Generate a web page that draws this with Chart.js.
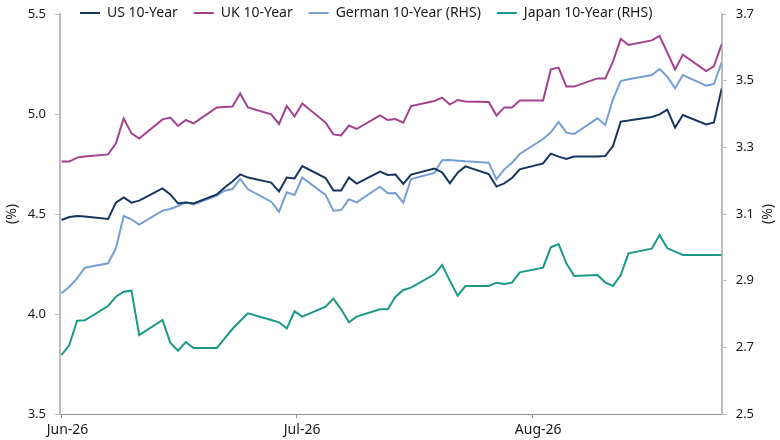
<!DOCTYPE html>
<html>
<head>
<meta charset="utf-8">
<script src="https://cdn.jsdelivr.net/npm/chart.js@4.4.1/dist/chart.umd.min.js"></script>
<style>
html,body{margin:0;padding:0;background:#ffffff;}
#wrap{width:780px;height:440px;}
canvas{display:block;}
</style>
</head>
<body>
<div id="wrap"><canvas id="c" width="780" height="440" style="width:780px;height:440px"></canvas></div>
<script>
// Trading days, counted in calendar days from the first observation
const days = [0,1,2,3,6,7,8,9,10,13,14,15,16,17,20,21,22,23,24,27,28,29,30,31,34,35,36,37,38,41,42,43,44,45,48,49,50,51,52,55,56,57,58,59,62,63,64,65,66,69,70,71,72,73,76,77,78,79,80,83,84,85];

const us10 = [4.470,4.485,4.490,4.488,4.475,4.557,4.583,4.557,4.567,4.628,4.598,4.553,4.558,4.553,4.598,4.633,4.662,4.698,4.682,4.657,4.612,4.682,4.678,4.740,4.680,4.617,4.617,4.682,4.652,4.712,4.695,4.697,4.650,4.697,4.727,4.708,4.653,4.707,4.738,4.700,4.637,4.653,4.680,4.723,4.753,4.802,4.787,4.775,4.787,4.787,4.790,4.840,4.962,4.967,4.985,4.998,5.022,4.932,4.995,4.948,4.958,5.128];

const uk10 = [4.762,4.762,4.782,4.788,4.798,4.853,4.978,4.903,4.877,4.973,4.982,4.940,4.970,4.953,5.033,5.035,5.037,5.103,5.033,4.998,4.950,5.040,4.988,5.053,4.957,4.898,4.893,4.942,4.925,4.993,4.970,4.975,4.957,5.040,5.065,5.082,5.047,5.070,5.063,5.060,4.992,5.033,5.033,5.068,5.068,5.223,5.232,5.137,5.137,5.178,5.177,5.262,5.375,5.345,5.368,5.390,5.307,5.223,5.297,5.215,5.240,5.350];

const de10 = [2.862,2.882,2.907,2.939,2.952,2.997,3.094,3.084,3.068,3.110,3.115,3.124,3.135,3.129,3.155,3.170,3.175,3.205,3.174,3.137,3.107,3.165,3.157,3.209,3.157,3.110,3.112,3.144,3.135,3.182,3.162,3.163,3.134,3.205,3.223,3.261,3.262,3.260,3.258,3.254,3.204,3.234,3.254,3.280,3.325,3.345,3.376,3.344,3.340,3.387,3.367,3.444,3.499,3.504,3.517,3.535,3.512,3.477,3.517,3.485,3.490,3.555];

const jp10 = [2.677,2.707,2.780,2.781,2.824,2.852,2.867,2.870,2.737,2.782,2.714,2.690,2.716,2.698,2.698,2.727,2.755,2.779,2.802,2.782,2.775,2.757,2.808,2.792,2.822,2.846,2.814,2.775,2.792,2.814,2.814,2.852,2.872,2.879,2.919,2.947,2.900,2.855,2.884,2.884,2.894,2.890,2.894,2.925,2.939,3.000,3.010,2.952,2.914,2.917,2.895,2.884,2.917,2.982,2.996,3.037,2.997,2.987,2.977,2.977,2.977,2.977];

const seriesNames = ['US 10-Year','UK 10-Year','German 10-Year (RHS)','Japan 10-Year (RHS)'];
const xTickDays = [0, 30.2, 60.6];
const xTickLabels = ['Jun-26','Jul-26','Aug-26'];
const leftTicks = [3.5, 4.0, 4.5, 5.0, 5.5];
const rightTicks = [2.5, 2.7, 2.9, 3.1, 3.3, 3.5, 3.7];
const leftTitle = '(%)';
const rightTitle = '(%)';

const FONT = "'Noto Sans', 'DejaVu Sans', sans-serif";
const TXT = '#1a1a1a';
const AXIS = '#bcbcbc';

Chart.defaults.font.family = FONT;
Chart.defaults.color = TXT;

function pts(vals){ return days.map((d,i)=>({x:d, y:vals[i]})); }

const LEG_PAD = 16;

const helper = {
  id: 'helper',
  afterLayout(chart){
    const lg = chart.legend;
    if (lg) {
      lg.left = chart.chartArea.left + 20 - LEG_PAD;
      lg.right = 780;
      lg.top = 6 - LEG_PAD;
      lg.bottom = 40;
    }
  },
  afterDraw(chart){
    const ctx = chart.ctx;
    ctx.save();
    ctx.font = "14px " + FONT;
    ctx.fillStyle = TXT;
    ctx.textAlign = 'center';
    ctx.textBaseline = 'middle';
    ctx.translate(768, (chart.chartArea.top + chart.chartArea.bottom) / 2);
    ctx.rotate(-Math.PI/2);
    ctx.fillText(rightTitle, 0, 0);
    ctx.restore();
  }
};

const ds = (label, vals, color, axis) => ({
  label, data: pts(vals), borderColor: color, backgroundColor: color,
  borderWidth: 2, pointRadius: 0, pointHoverRadius: 0, tension: 0, yAxisID: axis, fill: false
});

const yFit = (w) => (s) => { s.width = w; s.paddingTop = 0; s.paddingBottom = 0; };

new Chart(document.getElementById('c'), {
  type: 'line',
  data: {
    datasets: [
      ds(seriesNames[0], us10, '#17365f', 'y'),
      ds(seriesNames[1], uk10, '#a3418e', 'y'),
      ds(seriesNames[2], de10, '#779fd3', 'y1'),
      ds(seriesNames[3], jp10, '#1b9987', 'y1')
    ]
  },
  options: {
    responsive: false,
    animation: false,
    events: [],
    layout: { padding: { top: 13, left: 0, right: 0, bottom: 0 } },
    plugins: {
      tooltip: { enabled: false },
      legend: {
        position: 'top',
        align: 'start',
        maxHeight: 1,
        labels: {
          usePointStyle: true,
          pointStyle: 'line',
          pointStyleWidth: 20,
          padding: LEG_PAD,
          color: TXT,
          font: { size: 14, family: FONT }
        }
      }
    },
    scales: {
      x: {
        type: 'linear',
        min: -0.2,
        max: 85,
        afterBuildTicks: (s) => { s.ticks = xTickDays.map(v => ({ value: v })); },
        afterFit: (s) => { s.height = 26; },
        ticks: {
          autoSkip: false, maxRotation: 0, minRotation: 0,
          callback: (v, i) => xTickLabels[i],
          labelOffset: 6, padding: 4,
          color: TXT, font: { size: 14 }
        },
        grid: { drawOnChartArea: false, drawTicks: true, tickLength: 4, color: '#8f8f8f' },
        border: { color: '#8f8f8f', width: 1 }
      },
      y: {
        position: 'left',
        min: 3.5, max: 5.5,
        afterBuildTicks: (s) => { s.ticks = leftTicks.map(v => ({ value: v })); },
        afterFit: yFit(60),
        ticks: { callback: (v) => Number(v).toFixed(1), padding: 9, color: TXT, font: { size: 13 } },
        grid: { drawOnChartArea: false, drawTicks: true, tickLength: 5, color: AXIS },
        border: { color: AXIS, width: 2 },
        title: { display: true, text: leftTitle, color: TXT, font: { size: 14 }, padding: { top: 4, bottom: 4 } }
      },
      y1: {
        position: 'right',
        min: 2.5, max: 3.7,
        afterBuildTicks: (s) => { s.ticks = rightTicks.map(v => ({ value: v })); },
        afterFit: yFit(58.3),
        ticks: { callback: (v) => Number(v).toFixed(1), padding: 9, color: TXT, font: { size: 13 } },
        grid: { drawOnChartArea: false, drawTicks: true, tickLength: 5, color: AXIS },
        border: { color: AXIS, width: 2 }
      }
    }
  },
  plugins: [helper]
});
</script>
</body>
</html>
